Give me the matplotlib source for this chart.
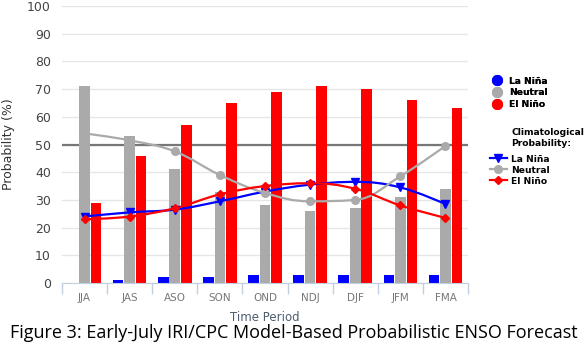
import numpy as np
import matplotlib.pyplot as plt
from matplotlib.path import Path
from matplotlib.patches import PathPatch
from matplotlib.lines import Line2D

periods = ["JJA", "JAS", "ASO", "SON", "OND", "NDJ", "DJF", "JFM", "FMA"]

# model forecast probabilities (%)
la_nina = [0, 1, 2, 2, 3, 3, 3, 3, 3]
neutral = [71, 53, 41, 33, 28, 26, 27, 31, 34]
el_nino = [29, 46, 57, 65, 69, 71, 70, 66, 63]

# climatological probabilities (%)
clim_la_nina = [24, 25.5, 26.5, 29.5, 33, 35.5, 36.5, 34.5, 28.5]
clim_neutral = [54, 51.5, 47.5, 39, 32.5, 29.5, 30, 38.5, 49.5]
clim_el_nino = [23, 24, 27, 32, 35, 36, 34, 28, 23.5]

BLUE = "#0000FF"
GRAY = "#AAAAAA"
RED = "#FF0000"
LEG_FONT = {"size": 6.6, "weight": "bold"}


def spline_path(xs, ys, smoothing=1.5):
    # smooth curve through the points, bezier control points in the style of highcharts splines
    n = len(xs)
    left = [None] * n
    right = [None] * n
    for i in range(n):
        if i == 0 or i == n - 1:
            left[i] = right[i] = (xs[i], ys[i])
            continue
        d = smoothing + 1
        lx = (smoothing * xs[i] + xs[i - 1]) / d
        ly = (smoothing * ys[i] + ys[i - 1]) / d
        rx = (smoothing * xs[i] + xs[i + 1]) / d
        ry = (smoothing * ys[i] + ys[i + 1]) / d
        corr = (ry - ly) * (rx - xs[i]) / (rx - lx) + ys[i] - ry
        ly += corr
        ry += corr
        if ly > ys[i - 1] and ly > ys[i]:
            ly = max(ys[i - 1], ys[i]); ry = 2 * ys[i] - ly
        elif ly < ys[i - 1] and ly < ys[i]:
            ly = min(ys[i - 1], ys[i]); ry = 2 * ys[i] - ly
        if ry > ys[i + 1] and ry > ys[i]:
            ry = max(ys[i + 1], ys[i]); ly = 2 * ys[i] - ry
        elif ry < ys[i + 1] and ry < ys[i]:
            ry = min(ys[i + 1], ys[i]); ly = 2 * ys[i] - ry
        left[i] = (lx, ly)
        right[i] = (rx, ry)
    verts = [(xs[0], ys[0])]
    codes = [Path.MOVETO]
    for i in range(1, n):
        verts += [right[i - 1], left[i], (xs[i], ys[i])]
        codes += [Path.CURVE4] * 3
    return Path(verts, codes)


fig = plt.figure(figsize=(5.87, 3.48), dpi=100)
ax = fig.add_axes([62 / 587, 1 - 283 / 348, 406 / 587, 277 / 348])

x = np.arange(len(periods))
w = 0.235
ax.bar(x - 0.255, la_nina, w, color=BLUE, zorder=2)
ax.bar(x, neutral, w, color=GRAY, zorder=2)
ax.bar(x + 0.255, el_nino, w, color=RED, zorder=2)

ax.axhline(50, color="#777777", lw=1.6, zorder=1.5)

for vals, col, mk, ms in [(clim_la_nina, BLUE, "v", 5.5),
                           (clim_neutral, GRAY, "o", 5.5),
                           (clim_el_nino, RED, "D", 4.2)]:
    ax.add_patch(PathPatch(spline_path(x, vals), fc="none", ec=col, lw=1.6, zorder=3))
    ax.plot(x, vals, ls="none", marker=mk, ms=ms, color=col, zorder=4)

ax.set_xlim(-0.5, len(periods) - 0.5)
ax.set_ylim(0, 100)
ax.set_yticks(range(0, 101, 10))
ax.set_xticks(x)
ax.set_xticklabels(periods)
ax.set_xticks(np.arange(-0.5, len(periods)), minor=True)
ax.grid(axis="y", color="#E6E6E6", lw=1, zorder=0)
ax.set_axisbelow(True)
for s in ["top", "right", "left"]:
    ax.spines[s].set_visible(False)
ax.spines["bottom"].set_color("#C0D0E0")
ax.tick_params(axis="y", length=0, labelsize=9, labelcolor="#444444", pad=8)
ax.tick_params(axis="x", which="major", length=0, labelsize=7.5, labelcolor="#777777", pad=7)
ax.tick_params(axis="x", which="minor", length=8, color="#C0D0E0", width=1)

ax.set_ylabel("Probability (%)", fontsize=9, color="#333333", labelpad=9)
ax.set_xlabel("Time Period", fontsize=8.5, color="#4D5D6D", labelpad=6)

leg1 = fig.legend(
    handles=[Line2D([], [], ls="none", marker="o", ms=7, color=c) for c in (BLUE, GRAY, RED)],
    labels=["La Niña", "Neutral", "El Niño"],
    loc="upper left", bbox_to_anchor=(488 / 587, 1 - 73 / 348), frameon=False,
    prop=LEG_FONT, handlelength=1.2, handletextpad=0.7,
    labelspacing=0.3, borderaxespad=0)
fig.add_artist(leg1)

fig.text(511 / 587, 1 - 128 / 348, "Climatological\nProbability:", ha="left", va="top",
         fontsize=LEG_FONT["size"], weight="bold", linespacing=1.35)

fig.legend(
    handles=[Line2D([], [], marker=m, ms=s, color=c, lw=1.6)
             for c, m, s in ((BLUE, "v", 5.5), (GRAY, "o", 5.5), (RED, "D", 4.2))],
    labels=["La Niña", "Neutral", "El Niño"],
    loc="upper left", bbox_to_anchor=(486 / 587, 1 - 151 / 348), frameon=False,
    prop=LEG_FONT, handlelength=1.9, handletextpad=0.45,
    labelspacing=0.22, borderaxespad=0)

fig.text(0.5, 1 - 333 / 348, "Figure 3: Early-July IRI/CPC Model-Based Probabilistic ENSO Forecast",
         ha="center", va="center", fontsize=13.0, family="Open Sans", color="black")

fig.savefig("out.png", dpi=100)
